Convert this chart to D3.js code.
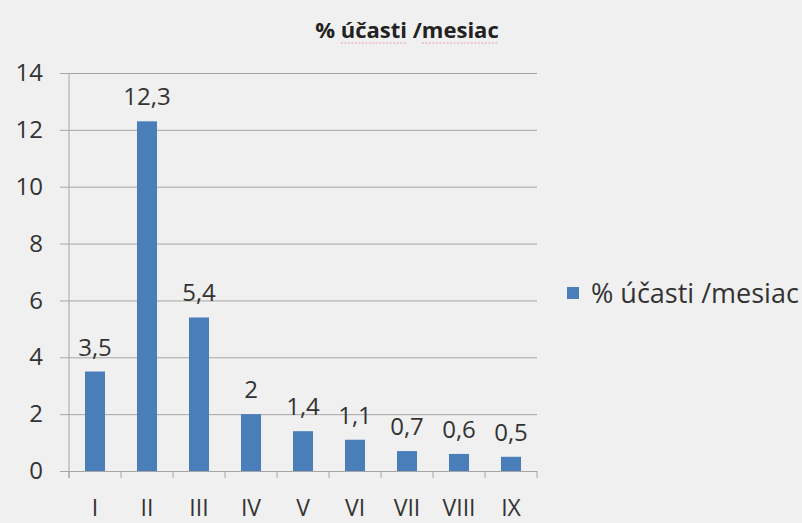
<!DOCTYPE html>
<html>
<head>
<meta charset="utf-8">
<script src="https://cdn.jsdelivr.net/npm/d3@7"></script>
<style>
  html, body { margin: 0; padding: 0; background: #f0f0f0; }
  svg { display: block; }
</style>
</head>
<body>
<svg id="chart" width="802" height="523"></svg>
<script>
const months = ["I", "II", "III", "IV", "V", "VI", "VII", "VIII", "IX"];
const values = [3.5, 12.3, 5.4, 2, 1.4, 1.1, 0.7, 0.6, 0.5];
const yTicks = [0, 2, 4, 6, 8, 10, 12, 14];
const seriesName = "% účasti /mesiac";

const W = 802, H = 523;
const m = { left: 69, right: 265, top: 73, bottom: 52 };
const font = "'Open Sans', sans-serif";
const barColor = "#4a7ebb";
const gridColor = "#a6a6a6";
const textColor = "#333333";

const svg = d3.select("#chart");
svg.append("rect").attr("width", W).attr("height", H).attr("fill", "#f0f0f0");

const x = d3.scaleBand().domain(months).range([m.left, W - m.right]).paddingInner(0.615).paddingOuter(0.3075);
const y = d3.scaleLinear().domain([0, 14]).range([H - m.bottom, m.top]);

// horizontal gridlines, each with a short outer tick
const yAxis = d3.axisLeft(y).tickValues(yTicks).tickSize(-(W - m.right - m.left)).tickPadding(26).tickFormat(d3.format("d"));
const gy = svg.append("g").attr("transform", `translate(${m.left},0)`).call(yAxis);
gy.select(".domain").remove();
gy.selectAll(".tick line").attr("stroke", gridColor).attr("x1", -9);
gy.selectAll(".tick text").attr("fill", textColor).attr("font-family", font).attr("font-size", 24);

// vertical axis line
svg.append("line").attr("x1", m.left).attr("x2", m.left).attr("y1", y(14)).attr("y2", y(0) + 7)
  .attr("stroke", gridColor);

// category boundary ticks
const bounds = d3.range(months.length + 1).map(i => m.left + i * (W - m.right - m.left) / months.length);
svg.append("g").selectAll("line").data(bounds).join("line")
  .attr("x1", d => d).attr("x2", d => d).attr("y1", y(0)).attr("y2", y(0) + 7)
  .attr("stroke", gridColor);

// bars
svg.append("g").selectAll("rect").data(values).join("rect")
  .attr("x", (d, i) => x(months[i]))
  .attr("width", x.bandwidth())
  .attr("y", d => y(d))
  .attr("height", d => y(0) - y(d))
  .attr("fill", barColor);

// value labels
svg.append("g").selectAll("text").data(values).join("text")
  .attr("x", (d, i) => x(months[i]) + x.bandwidth() / 2)
  .attr("y", d => y(d) - 16)
  .attr("text-anchor", "middle")
  .attr("font-family", font).attr("font-size", 24).attr("fill", textColor)
  .text(d => String(d).replace(".", ","));

// category labels
svg.append("g").selectAll("text").data(months).join("text")
  .attr("x", d => x(d) + x.bandwidth() / 2)
  .attr("y", y(0) + 45)
  .attr("text-anchor", "middle")
  .attr("font-family", font).attr("font-size", 23).attr("fill", textColor)
  .text(d => d);

// title
const title = svg.append("text")
  .attr("x", 407).attr("y", 38)
  .attr("text-anchor", "middle")
  .attr("font-family", font).attr("font-size", 22).attr("font-weight", "bold").attr("fill", "#222")
  .text(seriesName);

// spell-check style underline beneath two words of the title
const tNode = title.node();
[[2, 8], [10, 16]].forEach(([a, b]) => {
  const x0 = tNode.getStartPositionOfChar(a).x;
  const x1 = tNode.getEndPositionOfChar(b - 1).x;
  svg.append("line").attr("x1", x0).attr("x2", x1).attr("y1", 43).attr("y2", 43)
    .attr("stroke", "#e8a0a8").attr("stroke-width", 1.2).attr("stroke-dasharray", "2,1.5");
});

// legend
const lg = svg.append("g").attr("transform", "translate(567,286)");
lg.append("rect").attr("width", 12).attr("height", 12).attr("y", 1).attr("fill", barColor);
lg.append("text").attr("x", 24).attr("y", 17)
  .attr("font-family", font).attr("font-size", 27).attr("fill", textColor)
  .text(seriesName);
</script>
</body>
</html>
